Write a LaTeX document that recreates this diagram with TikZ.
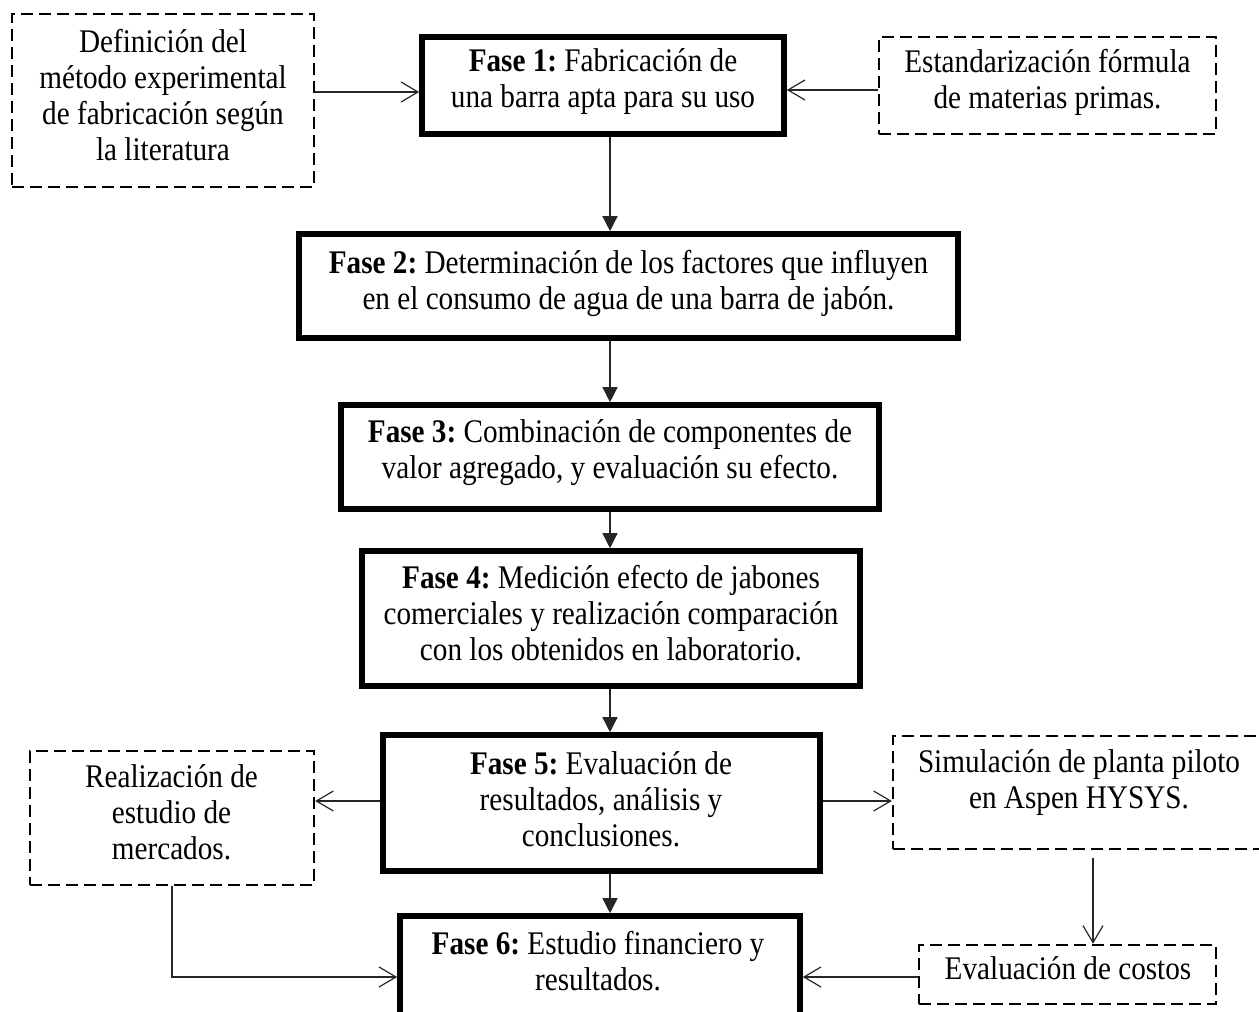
\documentclass[tikz,border=0pt]{standalone}
\usepackage{fontspec}
\setmainfont{Liberation Serif}[FakeStretch=0.885]
\usetikzlibrary{arrows.meta}
\tikzset{
  phasebox/.style={draw=black, line width=5.6pt, fill=none, inner sep=0pt},
  dashbox/.style={draw=black, line width=2.4pt, dash pattern=on 12pt off 6pt, inner sep=0pt},
  txt/.style={font=\fontsize{33}{36}\selectfont\frenchspacing, align=center, inner sep=0pt},
  mainarrow/.style={draw=black!85, line width=1.4pt, -{Triangle[length=15pt,width=15pt]}},
  sidearrow/.style={draw=black!85, line width=1.2pt, -{Straight Barb[length=17pt,width=20pt,line width=1.2pt]}}
}
\begin{document}
\begin{tikzpicture}[x=1pt,y=-1pt]
\useasboundingbox (0,0) rectangle (1259,1012);
\clip (0,0) rectangle (1259,1012);

% main phase boxes
\node[phasebox, minimum width=362pt, minimum height=97pt] (f1) at (603,85.5) {};
\node[phasebox, minimum width=659pt, minimum height=104pt] (f2) at (628.5,286) {};
\node[phasebox, minimum width=538pt, minimum height=104pt] (f3) at (610,457) {};
\node[phasebox, minimum width=498pt, minimum height=135pt] (f4) at (611,618.5) {};
\node[phasebox, minimum width=437pt, minimum height=136pt] (f5) at (601.5,803) {};
\node[phasebox, minimum width=400pt, minimum height=124pt] (f6) at (600,978) {};

% dashed boxes
\node[dashbox, minimum width=302pt, minimum height=173pt] (a) at (163,100.5) {};
\node[dashbox, minimum width=337pt, minimum height=97pt] (b) at (1047.5,85.5) {};
\node[dashbox, minimum width=284pt, minimum height=134pt] (c) at (172,818) {};
\node[dashbox, minimum width=377pt, minimum height=113pt] (d) at (1081.5,792.5) {};
\node[dashbox, minimum width=297pt, minimum height=59pt] (e) at (1067.5,974.5) {};

% texts
\node[txt] (ta) at (163,95) {Definición del\\método experimental\\de fabricación según\\la literatura};
\node[txt] (tb) at (1047.5,82.5) {Estandarización fórmula\\de materias primas.};
\node[txt] (t1) at (603,82) {\textbf{Fase 1:} Fabricación de\\una barra apta para su uso};
\node[txt] (t2) at (628.5,283) {\textbf{Fase 2:} Determinación de los factores que influyen\\en el consumo de agua de una barra de jabón.};
\node[txt] (t3) at (610,453) {\textbf{Fase 3:} Combinación de componentes de\\valor agregado, y evaluación su efecto.};
\node[txt] (t4) at (611,613.5) {\textbf{Fase 4:} Medición efecto de jabones\\comerciales y realización comparación\\con los obtenidos en laboratorio.};
\node[txt] (t5) at (601,799) {\textbf{Fase 5:} Evaluación de\\resultados, análisis y\\conclusiones.};
\node[txt] (t6) at (598,961) {\textbf{Fase 6:} Estudio financiero y\\resultados.};
\node[txt] (tc) at (171.5,812) {Realización de\\estudio de\\mercados.};
\node[txt] (td) at (1079,783) {Simulación de planta piloto\\en Aspen HYSYS.};
\node[txt] (te) at (1068,968) {Evaluación de costos};

% helper coordinates
\coordinate (mx) at (610,0);
\coordinate (ya) at (0,92);
\coordinate (yb) at (0,90);
\coordinate (yc) at (0,801);
\coordinate (yd) at (0,977);
\coordinate (de) at (1093,858);

% main flow
\draw[mainarrow] (f1.south -| mx) -- (f2.north -| mx);
\draw[mainarrow] (f2.south -| mx) -- (f3.north -| mx);
\draw[mainarrow] (f3.south -| mx) -- (f4.north -| mx);
\draw[mainarrow] (f4.south -| mx) -- (f5.north -| mx);
\draw[mainarrow] (f5.south -| mx) -- (f6.north -| mx);

% side arrows
\draw[sidearrow] (a.east |- ya) -- (f1.west |- ya);
\draw[sidearrow] (b.west |- yb) -- (f1.east |- yb);
\draw[sidearrow] (f5.west |- yc) -- (c.east |- yc);
\draw[sidearrow] (f5.east |- yc) -- (d.west |- yc);
\draw[sidearrow] (de) -- (de |- e.north);
\draw[sidearrow] (c.south) |- (f6.west |- yd);
\draw[sidearrow] (e.west |- yd) -- (f6.east |- yd);
\end{tikzpicture}
\end{document}
